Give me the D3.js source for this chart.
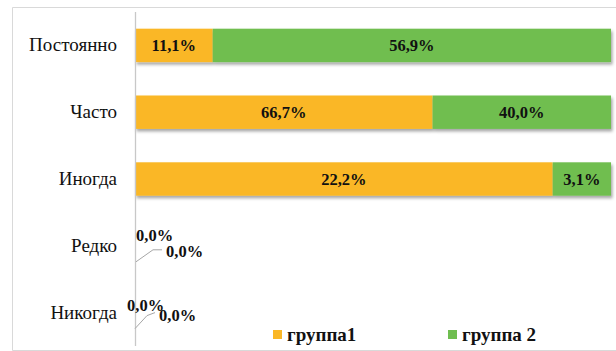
<!DOCTYPE html>
<html>
<head>
<meta charset="utf-8">
<script src="https://cdn.jsdelivr.net/npm/d3@7"></script>
<style>
  body { margin: 0; background: #fff; }
  svg { display: block; }
  text { font-family: "Liberation Serif", "Times New Roman", serif; }
  .cat-label { font-size: 19px; fill: #111; }
  .val-label { font-size: 16.5px; font-weight: bold; fill: #111; }
  .legend-label { font-size: 19px; font-weight: bold; fill: #111; }
</style>
</head>
<body>
<svg id="chart" width="616" height="351"></svg>
<script>
// data
var categories = ["Постоянно", "Часто", "Иногда", "Редко", "Никогда"];
var seriesNames = ["группа1", "группа 2"];
var group1 = [11.1, 66.7, 22.2, 0.0, 0.0];
var group2 = [56.9, 40.0, 3.1, 0.0, 0.0];
var colors = ["#fab726", "#6fbe50"];

var width = 616, height = 351;
var margin = { top: 12, right: 5, bottom: 3, left: 135 };
var serif = "'Liberation Serif', 'Times New Roman', serif";

var rows = categories.map(function (c, i) {
  return { cat: c, "группа1": group1[i], "группа 2": group2[i] };
});

// 100% stacked bars
var stacked = d3.stack()
  .keys(seriesNames)
  .offset(d3.stackOffsetExpand)(rows);

var xScale = d3.scaleLinear()
  .domain([0, 1])
  .range([margin.left, width - margin.right]);

var yScale = d3.scaleBand()
  .domain(categories)
  .range([margin.top, height - margin.bottom - 2])
  .paddingInner(0.5)
  .paddingOuter(0.25);

var colorScale = d3.scaleOrdinal()
  .domain(seriesNames)
  .range(colors);

var fmt = function (v) { return v.toFixed(1).replace(".", ",") + "%"; };

var svg = d3.select("#chart");

var defs = svg.append("defs");
var shadow = defs.append("filter")
  .attr("id", "shadow")
  .attr("x", "-5%").attr("y", "-20%")
  .attr("width", "110%").attr("height", "160%");
shadow.append("feDropShadow")
  .attr("dx", 1.5).attr("dy", 2.5)
  .attr("stdDeviation", 1.5)
  .attr("flood-color", "#000")
  .attr("flood-opacity", 0.35);

// chart frame
svg.append("path")
  .attr("d", "M" + (width + 5) + ",7.5 H12.5 V350.5 H" + (width + 5))
  .attr("fill", "none")
  .attr("stroke", "#d9d9d9")
  .attr("stroke-width", 1);

// bars
var barContainer = svg.append("g")
  .attr("class", "stacked-bars")
  .attr("filter", "url(#shadow)");

var groups = barContainer.selectAll(".series")
  .data(stacked)
  .enter()
  .append("g")
  .attr("class", "series")
  .style("fill", function (d) { return colorScale(d.key); });

groups.selectAll("rect")
  .data(function (d) { return d; })
  .enter()
  .append("rect")
  .attr("x", function (d) { return xScale(d[0]); })
  .attr("y", function (d) { return yScale(d.data.cat); })
  .attr("width", function (d) { return xScale(d[1]) - xScale(d[0]); })
  .attr("height", yScale.bandwidth());

// category axis
var yAxis = d3.axisLeft(yScale).tickSize(0).tickPadding(18);
var axisG = svg.append("g")
  .attr("transform", "translate(" + xScale(0) + ",0)")
  .call(yAxis)
  .attr("font-family", serif)
  .attr("font-size", 19);
axisG.select(".domain")
  .attr("d", "M0.5," + margin.top + "V346")
  .attr("stroke", "#c8c8c8")
  .attr("stroke-width", 1.3);
axisG.selectAll(".tick text")
  .attr("class", "cat-label")
  .attr("dy", "0.32em");

// value labels inside bars
var labels = svg.append("g").attr("class", "value-labels");
stacked.forEach(function (s, si) {
  s.forEach(function (d, i) {
    var raw = (si === 0 ? group1 : group2)[i];
    if (raw === 0) return;
    labels.append("text")
      .attr("class", "val-label")
      .attr("x", (xScale(d[0]) + xScale(d[1])) / 2)
      .attr("y", yScale(d.data.cat) + yScale.bandwidth() / 2)
      .attr("dy", "0.35em")
      .attr("text-anchor", "middle")
      .text(fmt(raw));
  });
});

// zero-value labels pushed out with leader lines (as in the original)
var zeroNudges = {
  "Редко": { a: [1, -5], b: [31, 11], leader: [[1, 16], [18, 4], [27, 4]] },
  "Никогда": { a: [-8, -2], b: [24, 8], leader: [[0, 16], [12, 3], [20, 0]] }
};
categories.forEach(function (c, i) {
  if (group1[i] !== 0 || group2[i] !== 0) return;
  var n = zeroNudges[c];
  var x0 = xScale(0);
  var cy = yScale(c) + yScale.bandwidth() / 2;
  labels.append("path")
    .attr("d", d3.line()(n.leader.map(function (p) { return [x0 + p[0], cy + p[1]]; })))
    .attr("fill", "none")
    .attr("stroke", "#a6a6a6")
    .attr("stroke-width", 1);
  labels.append("text")
    .attr("class", "val-label")
    .attr("x", x0 + n.a[0])
    .attr("y", cy + n.a[1])
    .text(fmt(group1[i]));
  labels.append("text")
    .attr("class", "val-label")
    .attr("x", x0 + n.b[0])
    .attr("y", cy + n.b[1])
    .text(fmt(group2[i]));
});

// legend
var legendX = [273, 448];
var legend = svg.append("g").attr("class", "legend");
legend.selectAll(".legend-rect")
  .data(seriesNames)
  .enter()
  .append("rect")
  .attr("class", "legend-rect")
  .attr("x", function (d, i) { return legendX[i]; })
  .attr("y", 330)
  .attr("width", 9)
  .attr("height", 9)
  .style("fill", function (d) { return colorScale(d); });
legend.selectAll(".legend-label")
  .data(seriesNames)
  .enter()
  .append("text")
  .attr("class", "legend-label")
  .attr("x", function (d, i) { return legendX[i] + 14; })
  .attr("y", 341)
  .text(function (d) { return d; });
</script>
</body>
</html>
